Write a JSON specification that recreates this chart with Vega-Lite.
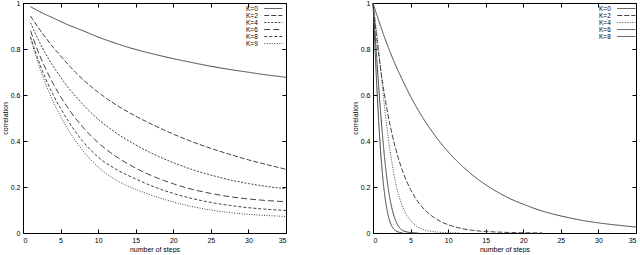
{
  "$schema": "https://vega.github.io/schema/vega-lite/v6.json",
  "padding": {"top": -2, "left": 0, "right": 0, "bottom": 0},
  "spacing": 87,
  "bounds": "flush",
  "config": {
    "font": "Liberation Sans",
    "view": {"stroke": "#000", "strokeWidth": 1},
    "axis": {"grid": false, "domain": false, "tickColor": "#000", "tickSize": -4, "labelPadding": 7, "labelFontSize": 7, "labelColor": "#000", "titleFontSize": 7, "titleFontWeight": "normal", "titleColor": "#000", "labelFont": "Liberation Sans", "titleFont": "Liberation Sans", "titlePadding": 2},
    "legend": {"orient": "none", "legendY": 2, "symbolType": "M-1,0H5.6", "symbolSize": 30, "labelFontSize": 6.5, "labelColor": "#000", "title": null, "rowPadding": 0, "symbolStrokeColor": "#444", "symbolFillColor": "transparent", "symbolStrokeWidth": 1, "padding": 0, "labelFont": "Liberation Sans"}
  },
  "datasets": {
    "left": [
      {"k":"K=0","x":1,"y":0.984},{"k":"K=0","x":2,"y":0.966},{"k":"K=0","x":3,"y":0.95},{"k":"K=0","x":4,"y":0.935},{"k":"K=0","x":5,"y":0.92},{"k":"K=0","x":6,"y":0.905},{"k":"K=0","x":7,"y":0.892},{"k":"K=0","x":8,"y":0.879},{"k":"K=0","x":10,"y":0.852},{"k":"K=0","x":12.5,"y":0.823},{"k":"K=0","x":15,"y":0.798},{"k":"K=0","x":17.5,"y":0.777},{"k":"K=0","x":20,"y":0.758},{"k":"K=0","x":22.5,"y":0.741},{"k":"K=0","x":25,"y":0.725},{"k":"K=0","x":27.5,"y":0.711},{"k":"K=0","x":30,"y":0.699},{"k":"K=0","x":32.5,"y":0.687},{"k":"K=0","x":35,"y":0.677},
      {"k":"K=2","x":1,"y":0.943},{"k":"K=2","x":2,"y":0.895},{"k":"K=2","x":3,"y":0.85},{"k":"K=2","x":4,"y":0.808},{"k":"K=2","x":5,"y":0.77},{"k":"K=2","x":6,"y":0.733},{"k":"K=2","x":7,"y":0.698},{"k":"K=2","x":8,"y":0.667},{"k":"K=2","x":10,"y":0.612},{"k":"K=2","x":12.5,"y":0.555},{"k":"K=2","x":15,"y":0.508},{"k":"K=2","x":17.5,"y":0.467},{"k":"K=2","x":20,"y":0.43},{"k":"K=2","x":22.5,"y":0.397},{"k":"K=2","x":25,"y":0.368},{"k":"K=2","x":27.5,"y":0.342},{"k":"K=2","x":30,"y":0.318},{"k":"K=2","x":32.5,"y":0.297},{"k":"K=2","x":35,"y":0.277},
      {"k":"K=4","x":1,"y":0.914},{"k":"K=4","x":2,"y":0.843},{"k":"K=4","x":3,"y":0.78},{"k":"K=4","x":4,"y":0.726},{"k":"K=4","x":5,"y":0.678},{"k":"K=4","x":6,"y":0.633},{"k":"K=4","x":7,"y":0.594},{"k":"K=4","x":8,"y":0.558},{"k":"K=4","x":10,"y":0.495},{"k":"K=4","x":12.5,"y":0.433},{"k":"K=4","x":15,"y":0.383},{"k":"K=4","x":17.5,"y":0.341},{"k":"K=4","x":20,"y":0.306},{"k":"K=4","x":22.5,"y":0.276},{"k":"K=4","x":25,"y":0.252},{"k":"K=4","x":27.5,"y":0.231},{"k":"K=4","x":30,"y":0.215},{"k":"K=4","x":32.5,"y":0.202},{"k":"K=4","x":35,"y":0.192},
      {"k":"K=6","x":1,"y":0.88},{"k":"K=6","x":2,"y":0.79},{"k":"K=6","x":3,"y":0.715},{"k":"K=6","x":4,"y":0.65},{"k":"K=6","x":5,"y":0.593},{"k":"K=6","x":6,"y":0.543},{"k":"K=6","x":7,"y":0.498},{"k":"K=6","x":8,"y":0.459},{"k":"K=6","x":10,"y":0.393},{"k":"K=6","x":12.5,"y":0.33},{"k":"K=6","x":15,"y":0.282},{"k":"K=6","x":17.5,"y":0.244},{"k":"K=6","x":20,"y":0.214},{"k":"K=6","x":22.5,"y":0.19},{"k":"K=6","x":25,"y":0.172},{"k":"K=6","x":27.5,"y":0.158},{"k":"K=6","x":30,"y":0.148},{"k":"K=6","x":32.5,"y":0.141},{"k":"K=6","x":35,"y":0.136},
      {"k":"K=8","x":1,"y":0.853},{"k":"K=8","x":2,"y":0.755},{"k":"K=8","x":3,"y":0.672},{"k":"K=8","x":4,"y":0.602},{"k":"K=8","x":5,"y":0.542},{"k":"K=8","x":6,"y":0.488},{"k":"K=8","x":7,"y":0.44},{"k":"K=8","x":8,"y":0.397},{"k":"K=8","x":10,"y":0.33},{"k":"K=8","x":12.5,"y":0.275},{"k":"K=8","x":15,"y":0.235},{"k":"K=8","x":17.5,"y":0.2},{"k":"K=8","x":20,"y":0.172},{"k":"K=8","x":22.5,"y":0.15},{"k":"K=8","x":25,"y":0.133},{"k":"K=8","x":27.5,"y":0.12},{"k":"K=8","x":30,"y":0.11},{"k":"K=8","x":32.5,"y":0.103},{"k":"K=8","x":35,"y":0.098},
      {"k":"K=9","x":1,"y":0.846},{"k":"K=9","x":2,"y":0.74},{"k":"K=9","x":3,"y":0.65},{"k":"K=9","x":4,"y":0.572},{"k":"K=9","x":5,"y":0.508},{"k":"K=9","x":6,"y":0.45},{"k":"K=9","x":7,"y":0.4},{"k":"K=9","x":8,"y":0.357},{"k":"K=9","x":10,"y":0.287},{"k":"K=9","x":12.5,"y":0.228},{"k":"K=9","x":15,"y":0.19},{"k":"K=9","x":17.5,"y":0.16},{"k":"K=9","x":20,"y":0.135},{"k":"K=9","x":22.5,"y":0.115},{"k":"K=9","x":25,"y":0.1},{"k":"K=9","x":27.5,"y":0.089},{"k":"K=9","x":30,"y":0.081},{"k":"K=9","x":32.5,"y":0.076},{"k":"K=9","x":35,"y":0.072}
    ],
    "right": [
      {"k":"K=0","x":0,"y":1},{"k":"K=0","x":1,"y":0.9},{"k":"K=0","x":2,"y":0.81},{"k":"K=0","x":3,"y":0.73},{"k":"K=0","x":4,"y":0.66},{"k":"K=0","x":5,"y":0.594},{"k":"K=0","x":6,"y":0.535},{"k":"K=0","x":7,"y":0.482},{"k":"K=0","x":8,"y":0.435},{"k":"K=0","x":9,"y":0.392},{"k":"K=0","x":10,"y":0.353},{"k":"K=0","x":12,"y":0.287},{"k":"K=0","x":14,"y":0.233},{"k":"K=0","x":16,"y":0.189},{"k":"K=0","x":18,"y":0.153},{"k":"K=0","x":20,"y":0.125},{"k":"K=0","x":22,"y":0.101},{"k":"K=0","x":24,"y":0.082},{"k":"K=0","x":26,"y":0.067},{"k":"K=0","x":28,"y":0.054},{"k":"K=0","x":30,"y":0.044},{"k":"K=0","x":32,"y":0.036},{"k":"K=0","x":35,"y":0.026},
      {"k":"K=2","x":0,"y":1},{"k":"K=2","x":0.5,"y":0.846},{"k":"K=2","x":1,"y":0.717},{"k":"K=2","x":1.5,"y":0.607},{"k":"K=2","x":2,"y":0.513},{"k":"K=2","x":2.5,"y":0.435},{"k":"K=2","x":3,"y":0.368},{"k":"K=2","x":4,"y":0.264},{"k":"K=2","x":5,"y":0.189},{"k":"K=2","x":6,"y":0.135},{"k":"K=2","x":7,"y":0.097},{"k":"K=2","x":8,"y":0.07},{"k":"K=2","x":9,"y":0.05},{"k":"K=2","x":10,"y":0.036},{"k":"K=2","x":12,"y":0.018},{"k":"K=2","x":14,"y":0.009},{"k":"K=2","x":16,"y":0.005},{"k":"K=2","x":18,"y":0.0025},{"k":"K=2","x":20,"y":0.001},{"k":"K=2","x":22.5,"y":0.0005},
      {"k":"K=4","x":0,"y":1},{"k":"K=4","x":0.5,"y":0.87},{"k":"K=4","x":1,"y":0.72},{"k":"K=4","x":1.5,"y":0.56},{"k":"K=4","x":2,"y":0.42},{"k":"K=4","x":2.5,"y":0.31},{"k":"K=4","x":3,"y":0.22},{"k":"K=4","x":3.5,"y":0.155},{"k":"K=4","x":4,"y":0.11},{"k":"K=4","x":5,"y":0.055},{"k":"K=4","x":6,"y":0.025},{"k":"K=4","x":7,"y":0.012},{"k":"K=4","x":8,"y":0.006},{"k":"K=4","x":9,"y":0.003},{"k":"K=4","x":10,"y":0.0015},{"k":"K=4","x":11.5,"y":0.0005},
      {"k":"K=6","x":0,"y":1},{"k":"K=6","x":0.25,"y":0.88},{"k":"K=6","x":0.5,"y":0.76},{"k":"K=6","x":0.75,"y":0.64},{"k":"K=6","x":1,"y":0.53},{"k":"K=6","x":1.25,"y":0.43},{"k":"K=6","x":1.5,"y":0.34},{"k":"K=6","x":2,"y":0.2},{"k":"K=6","x":2.5,"y":0.11},{"k":"K=6","x":3,"y":0.055},{"k":"K=6","x":3.5,"y":0.025},{"k":"K=6","x":4,"y":0.01},{"k":"K=6","x":5,"y":0.002},{"k":"K=6","x":6,"y":0},
      {"k":"K=8","x":0,"y":1},{"k":"K=8","x":0.25,"y":0.82},{"k":"K=8","x":0.5,"y":0.64},{"k":"K=8","x":0.75,"y":0.49},{"k":"K=8","x":1,"y":0.36},{"k":"K=8","x":1.25,"y":0.26},{"k":"K=8","x":1.5,"y":0.18},{"k":"K=8","x":2,"y":0.08},{"k":"K=8","x":2.5,"y":0.03},{"k":"K=8","x":3,"y":0.01},{"k":"K=8","x":3.5,"y":0.003},{"k":"K=8","x":4,"y":0}
    ]
  },
  "hconcat": [
    {
      "width": 263, "height": 230,
      "data": {"name": "left"},
      "layer": [
        {
          "mark": {"type": "line", "interpolate": "monotone", "color": "#444", "strokeWidth": 1},
          "encoding": {
            "x": {"field": "x", "type": "quantitative", "scale": {"domain": [0, 35], "nice": false}, "axis": {"values": [0,5,10,15,20,25,30,35], "title": "number of steps", "orient": "bottom"}},
            "y": {"field": "y", "type": "quantitative", "scale": {"domain": [0, 1]}, "axis": {"values": [0,0.2,0.4,0.6,0.8,1], "format": "~g", "title": "correlation", "orient": "left"}},
            "strokeDash": {"field": "k", "type": "nominal", "scale": {"domain": ["K=0","K=2","K=4","K=6","K=8","K=9"], "range": [[1,0],[5,2],[2,1.5],[6,3],[3,2],[1,1.5]]},
              "legend": {"legendX": 223, "encode": {"symbols": {"update": {"x": {"value": 21}}}, "labels": {"update": {"x": {"value": 0}, "align": {"value": "left"}}}}}}
          }
        },
        {
          "mark": {"type": "line", "opacity": 0},
          "encoding": {
            "x": {"field": "x", "type": "quantitative", "axis": {"values": [0,5,10,15,20,25,30,35], "orient": "top", "labels": false, "title": null}},
            "y": {"field": "y", "type": "quantitative", "axis": {"values": [0,0.2,0.4,0.6,0.8,1], "orient": "right", "labels": false, "title": null}}
          }
        }
      ],
      "resolve": {"axis": {"x": "independent", "y": "independent"}}
    },
    {
      "width": 263, "height": 230,
      "data": {"name": "right"},
      "layer": [
        {
          "mark": {"type": "line", "interpolate": "monotone", "color": "#444", "strokeWidth": 1},
          "encoding": {
            "x": {"field": "x", "type": "quantitative", "scale": {"domain": [0, 35], "nice": false}, "axis": {"values": [0,5,10,15,20,25,30,35], "title": "number of steps", "orient": "bottom"}},
            "y": {"field": "y", "type": "quantitative", "scale": {"domain": [0, 1]}, "axis": {"values": [0,0.2,0.4,0.6,0.8,1], "format": "~g", "title": "correlation", "orient": "left"}},
            "strokeDash": {"field": "k", "type": "nominal", "scale": {"domain": ["K=0","K=2","K=4","K=6","K=8"], "range": [[1,0],[5,2],[1,1.5],[1,0],[1,0]]},
              "legend": {"legendX": 226, "encode": {"symbols": {"update": {"x": {"value": 21}}}, "labels": {"update": {"x": {"value": 0}, "align": {"value": "left"}}}}}}
          }
        },
        {
          "mark": {"type": "line", "opacity": 0},
          "encoding": {
            "x": {"field": "x", "type": "quantitative", "axis": {"values": [0,5,10,15,20,25,30,35], "orient": "top", "labels": false, "title": null}},
            "y": {"field": "y", "type": "quantitative", "axis": {"values": [0,0.2,0.4,0.6,0.8,1], "orient": "right", "labels": false, "title": null}}
          }
        }
      ],
      "resolve": {"axis": {"x": "independent", "y": "independent"}}
    }
  ],
  "resolve": {"scale": {"strokeDash": "independent"}, "legend": {"strokeDash": "independent"}}
}
